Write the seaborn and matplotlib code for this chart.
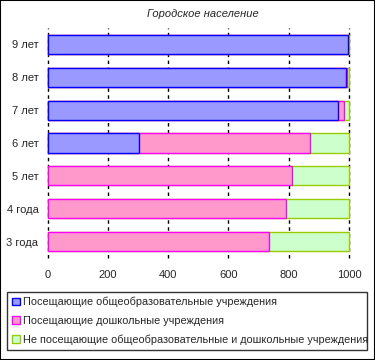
import matplotlib
matplotlib.use('Agg')
import matplotlib.pyplot as plt
import seaborn as sns
import numpy as np
from matplotlib.patches import Patch, Rectangle

# Data (per 1000 children), top to bottom
ages = ['9 лет', '8 лет', '7 лет', '6 лет', '5 лет', '4 года', '3 года']
school = [995, 991, 963, 305, 0, 0, 0]
preschool = [1, 3, 20, 567, 811, 791, 736]
neither = [4, 6, 17, 128, 189, 209, 264]

series_names = ['Посещающие общеобразовательные учреждения',
                'Посещающие дошкольные учреждения',
                'Не посещающие общеобразовательные и дошкольные учреждения']
face_colors = ['#9999FF', '#FF99CC', '#CCFFCC']
edge_colors = ['#0000FF', '#FF00FF', '#99CC00']
xticks = [0, 200, 400, 600, 800, 1000]

sns.set_style('white')
plt.rcParams['font.family'] = ['Liberation Sans', 'DejaVu Sans']

fig = plt.figure(figsize=(3.75, 3.6), dpi=100)
ax = fig.add_axes([0.1267, 0.2833, 0.804, 0.639])

# stacked bars: draw cumulative totals, largest first
cum1 = np.array(school)
cum2 = cum1 + np.array(preschool)
cum3 = cum2 + np.array(neither)
for vals, fc, ec in [(cum3, face_colors[2], edge_colors[2]),
                     (cum2, face_colors[1], edge_colors[1]),
                     (cum1, face_colors[0], edge_colors[0])]:
    sns.barplot(x=vals, y=ages, orient='h', color=fc, edgecolor=ec,
                linewidth=1.0, width=0.58, saturation=1, ax=ax, zorder=3)

# hide zero-width bars
for p in ax.patches:
    if p.get_width() == 0:
        p.set_visible(False)
    p.set_clip_on(False)

ax.set_xlim(0, 1000)
ax.set_ylim(6.5, -0.5)
ax.set_xticks(xticks)
ax.set_xlabel('')
ax.set_ylabel('')
for s in ax.spines.values():
    s.set_visible(False)
ax.tick_params(axis='x', length=0, pad=8.5, labelsize=8)
ax.tick_params(axis='y', length=0, pad=6.5, labelsize=8)

# dashed vertical gridlines behind the bars
for xv in xticks:
    ax.axvline(xv, color='black', linestyle=(0, (2.5, 2.5)), linewidth=1.0,
               zorder=1, clip_on=False)

fig.text(0.541, 0.961, 'Городское население', ha='center', va='center',
         fontsize=8, style='italic')

handles = [Patch(facecolor=fc, edgecolor=ec, linewidth=1.0)
           for fc, ec in zip(face_colors, edge_colors)]
leg = fig.legend(handles, series_names, loc='upper left',
                 bbox_to_anchor=(0.019, 0.025, 0.96, 0.164), mode='expand',
                 ncol=1, fontsize=7.8,
                 frameon=True, fancybox=False, handlelength=0.7,
                 handleheight=0.7, handletextpad=0.3, borderaxespad=0,
                 borderpad=0.45, labelspacing=0.8)
leg.get_frame().set_edgecolor('black')
leg.get_frame().set_linewidth(1.0)

fig.patches.append(Rectangle((0, 0), 1, 1, transform=fig.transFigure,
                             fill=False, edgecolor='black', linewidth=1.5))

fig.savefig('out.png', dpi=100)
